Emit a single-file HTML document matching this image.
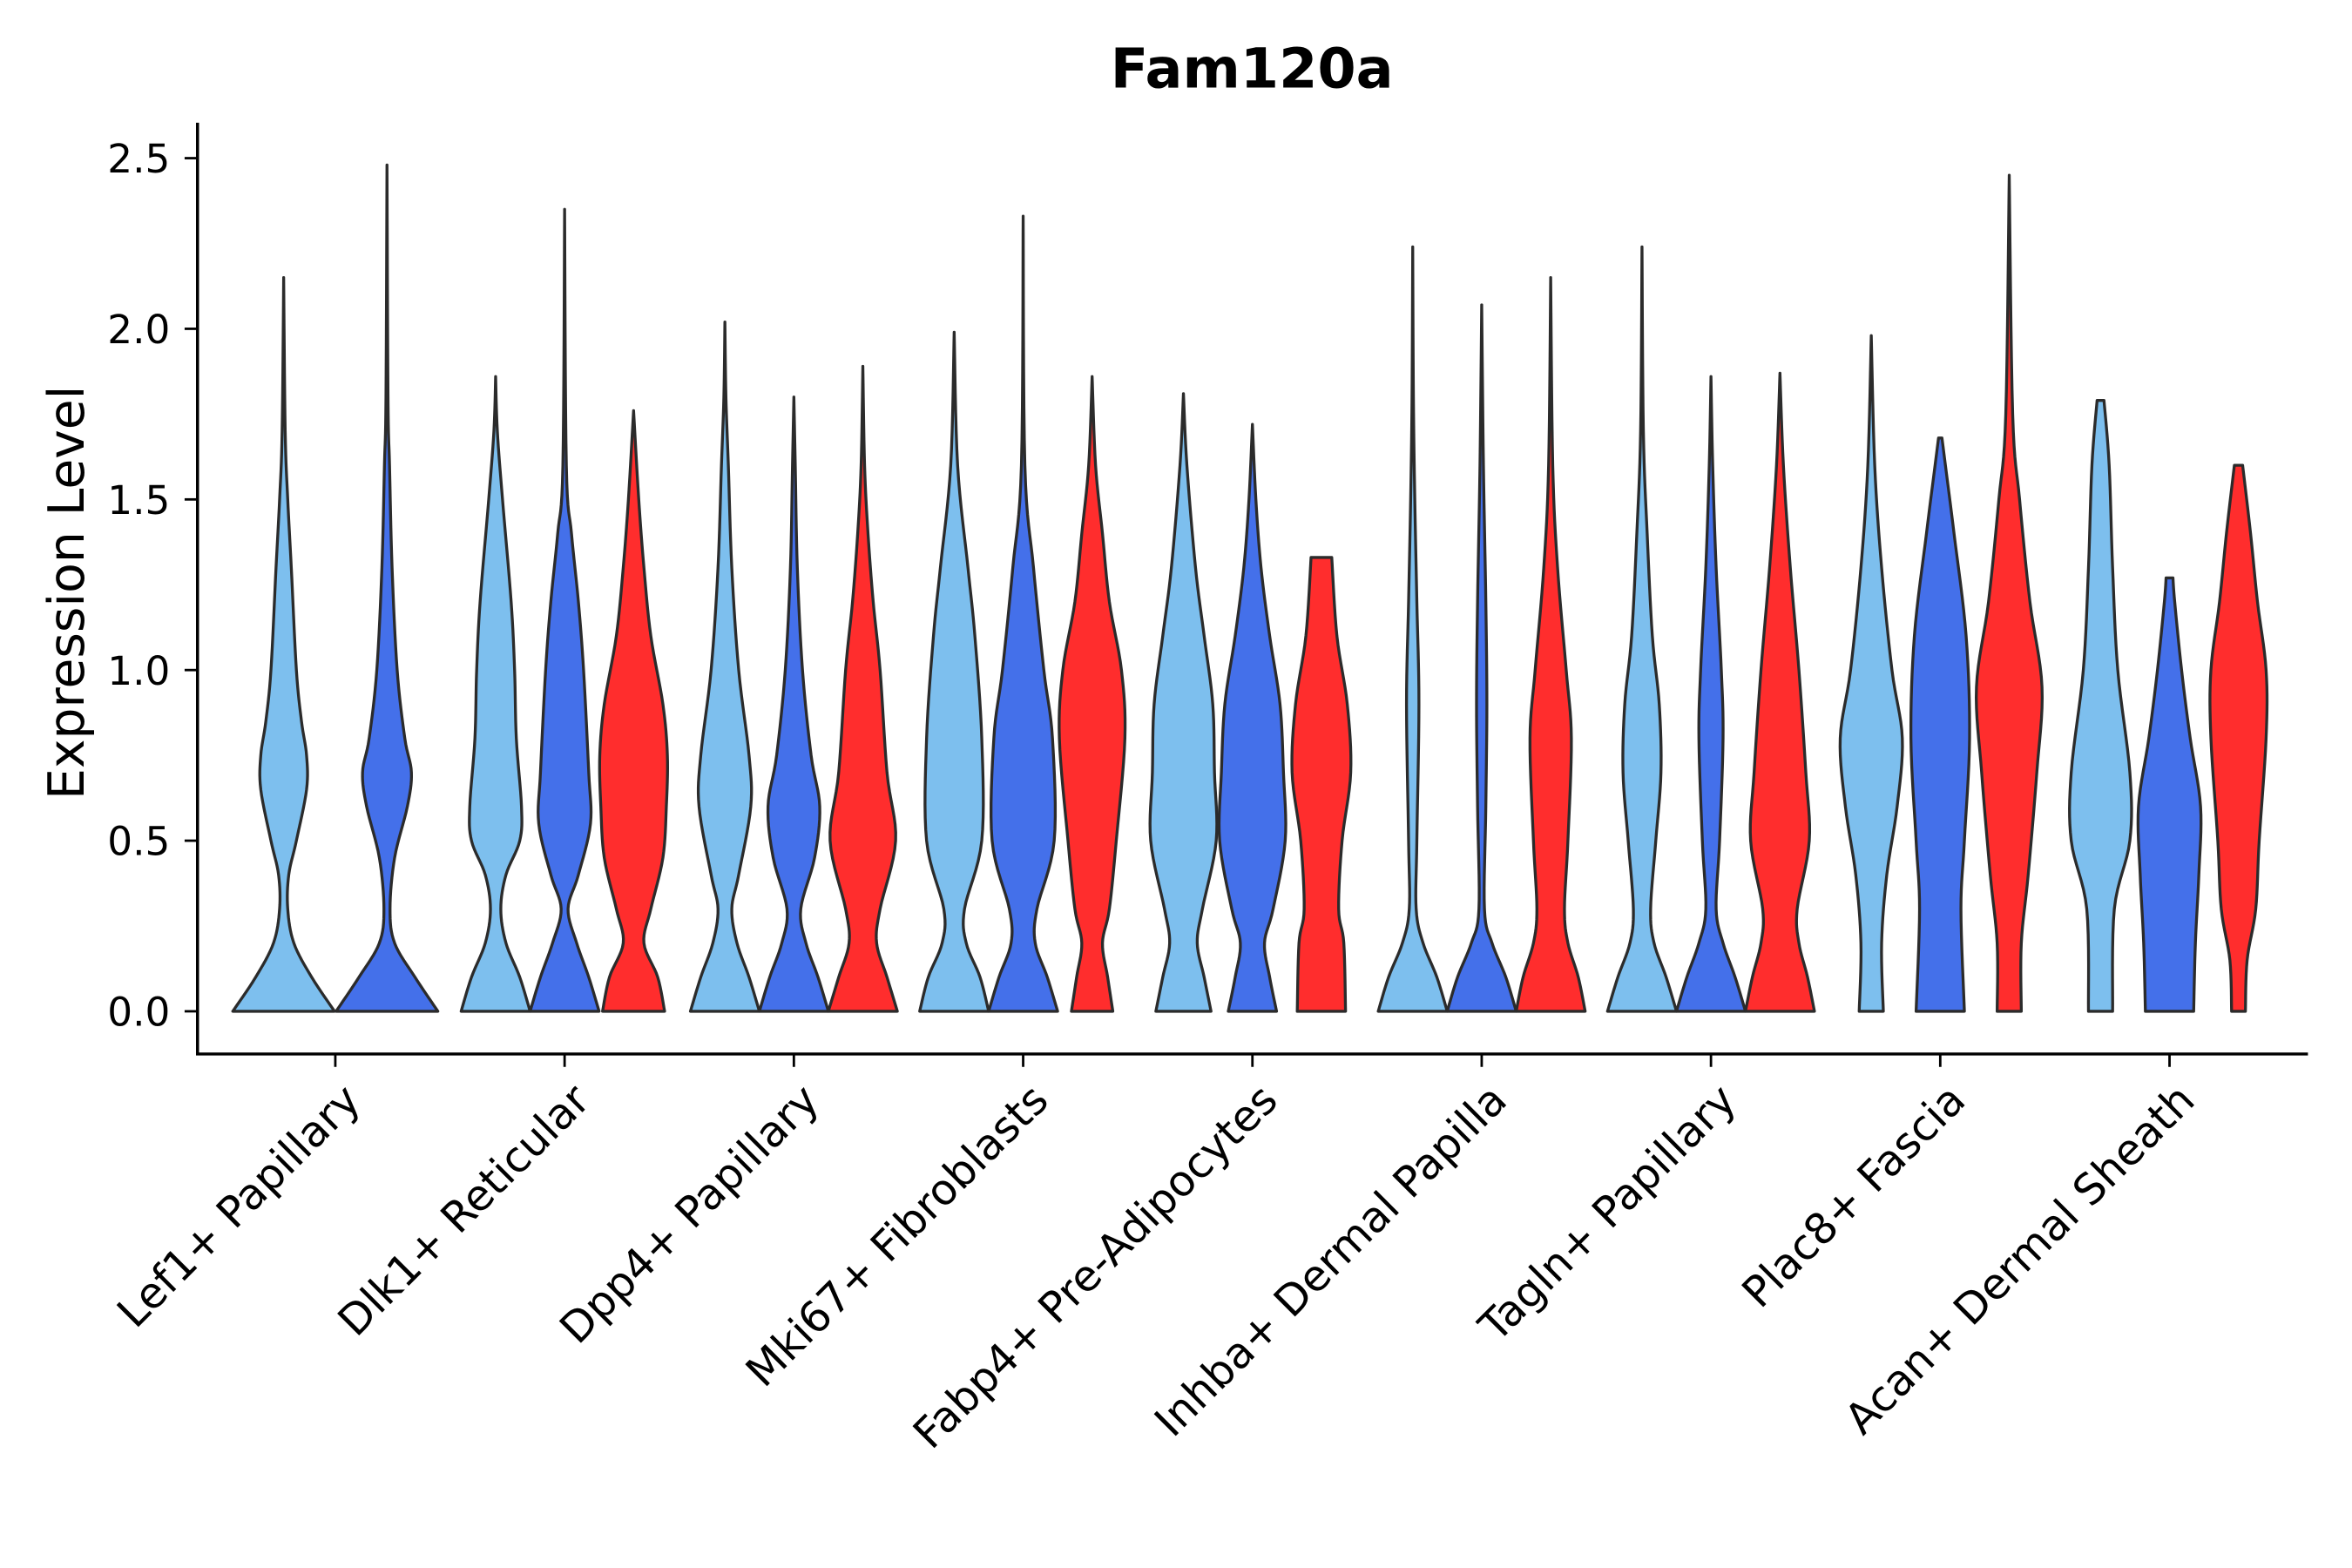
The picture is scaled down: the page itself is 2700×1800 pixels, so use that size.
<!DOCTYPE html>
<html><head><meta charset="utf-8"><style>html,body{margin:0;padding:0;background:#fff}svg{display:block}</style></head>
<body>
<svg id="chart" width="2700" height="1800" viewBox="0 0 1548 1032" xmlns="http://www.w3.org/2000/svg" font-family="'DejaVu Sans','Liberation Sans',sans-serif">
<rect width="1548" height="1032" fill="#fff"/>
<text x="824" y="57.7" text-anchor="middle" font-size="36.5" font-weight="bold">Fam120a</text>
<text transform="translate(55,390) rotate(-90)" text-anchor="middle" font-size="32.5">Expression Level</text>
<g id="axes"></g>
<g id="violins"></g>
</svg>
<script>
const categories = ["Lef1+ Papillary","Dlk1+ Reticular","Dpp4+ Papillary","Mki67+ Fibroblasts","Fabp4+ Pre-Adipocytes","Inhba+ Dermal Papilla","Tagln+ Papillary","Plac8+ Fascia","Acan+ Dermal Sheath"];
const yTicks = [0, 0.5, 1.0, 1.5, 2.0, 2.5];
const yTickLabels = ["0.0","0.5","1.0","1.5","2.0","2.5"];
const seriesNames = ["light","blue","red"];
const seriesColors = ["#7dbfee","#4470ea","#ff2d2d"];
const presence = [[1,1,0],[1,1,1],[1,1,1],[1,1,1],[1,1,1],[1,1,1],[1,1,1],[1,1,1],[1,1,1]];
const profiles = [
 [[[0,1],[0.1,0.55],[0.2,0.2],[0.3,0.08],[0.4,0.1],[0.5,0.25],[0.65,0.45],[0.75,0.45],[0.85,0.35],[1.0,0.25],[1.3,0.15],[1.5,0.08],[1.7,0.03],[2.15,0]],
  [[0,1],[0.1,0.55],[0.2,0.15],[0.3,0.06],[0.45,0.15],[0.6,0.4],[0.7,0.48],[0.8,0.35],[1.0,0.2],[1.3,0.1],[1.6,0.05],[1.8,0.02],[2.48,0]], null],
 [[[0,1],[0.1,0.7],[0.2,0.3],[0.3,0.15],[0.4,0.3],[0.5,0.7],[0.6,0.75],[0.8,0.6],[1.0,0.55],[1.2,0.45],[1.5,0.2],[1.7,0.05],[1.86,0]],
  [[0,1],[0.1,0.7],[0.2,0.35],[0.3,0.1],[0.4,0.4],[0.55,0.75],[0.7,0.7],[1.0,0.55],[1.2,0.4],[1.4,0.2],[1.6,0.05],[2.35,0]],
  [[0,0.9],[0.1,0.7],[0.2,0.3],[0.3,0.5],[0.45,0.85],[0.6,0.95],[0.75,0.98],[0.9,0.85],[1.1,0.5],[1.3,0.3],[1.5,0.15],[1.76,0]]],
 [[[0,1],[0.1,0.7],[0.2,0.35],[0.3,0.2],[0.4,0.4],[0.6,0.75],[0.75,0.7],[1.0,0.4],[1.3,0.2],[1.6,0.1],[1.8,0.03],[2.02,0]],
  [[0,1],[0.1,0.7],[0.2,0.35],[0.3,0.2],[0.45,0.6],[0.6,0.75],[0.75,0.5],[1.0,0.25],[1.3,0.1],[1.6,0.04],[1.8,0]],
  [[0,1],[0.1,0.7],[0.2,0.4],[0.3,0.5],[0.5,0.95],[0.7,0.7],[1.0,0.5],[1.2,0.3],[1.4,0.15],[1.6,0.05],[1.89,0]]],
 [[[0,1],[0.1,0.75],[0.2,0.35],[0.3,0.3],[0.5,0.8],[0.8,0.8],[1.1,0.6],[1.3,0.4],[1.6,0.1],[1.99,0]],
  [[0,1],[0.1,0.7],[0.2,0.35],[0.3,0.4],[0.5,0.9],[0.8,0.85],[1.0,0.6],[1.3,0.3],[1.6,0.05],[2.33,0]],
  [[0,0.6],[0.1,0.45],[0.2,0.3],[0.3,0.5],[0.5,0.7],[0.8,0.95],[1.0,0.85],[1.2,0.5],[1.4,0.3],[1.6,0.1],[1.86,0]]],
 [[[0,0.8],[0.1,0.6],[0.2,0.4],[0.3,0.55],[0.5,0.95],[0.7,0.9],[0.9,0.85],[1.1,0.6],[1.3,0.35],[1.6,0.1],[1.81,0]],
  [[0,0.7],[0.1,0.5],[0.2,0.35],[0.3,0.6],[0.5,0.95],[0.7,0.9],[0.9,0.8],[1.1,0.5],[1.3,0.25],[1.5,0.1],[1.72,0]],
  [[0,0.7],[0.2,0.65],[0.3,0.5],[0.5,0.6],[0.7,0.85],[0.9,0.75],[1.1,0.45],[1.33,0.3]]],
 [[[0,1],[0.1,0.7],[0.2,0.3],[0.3,0.1],[0.5,0.12],[0.9,0.18],[1.2,0.12],[1.5,0.06],[1.8,0.02],[2.24,0]],
  [[0,1],[0.1,0.7],[0.2,0.3],[0.3,0.08],[0.6,0.12],[0.9,0.15],[1.2,0.12],[1.6,0.05],[2.07,0]],
  [[0,1],[0.1,0.8],[0.2,0.5],[0.3,0.4],[0.5,0.5],[0.8,0.6],[1.0,0.45],[1.3,0.2],[1.6,0.06],[2.15,0]]],
 [[[0,1],[0.1,0.7],[0.2,0.35],[0.3,0.25],[0.5,0.4],[0.7,0.55],[0.9,0.5],[1.1,0.3],[1.4,0.15],[1.7,0.04],[2.24,0]],
  [[0,1],[0.1,0.7],[0.2,0.35],[0.3,0.15],[0.5,0.25],[0.8,0.35],[1.0,0.3],[1.3,0.15],[1.6,0.05],[1.86,0]],
  [[0,1],[0.1,0.8],[0.2,0.55],[0.3,0.5],[0.5,0.85],[0.7,0.75],[1.0,0.55],[1.3,0.3],[1.6,0.1],[1.87,0]]],
 [[[0,0.35],[0.2,0.3],[0.4,0.45],[0.6,0.75],[0.8,0.9],[1.0,0.6],[1.3,0.3],[1.6,0.1],[1.98,0]],
  [[0,0.7],[0.3,0.6],[0.5,0.7],[0.8,0.85],[1.1,0.75],[1.4,0.4],[1.6,0.15],[1.68,0.05]],
  [[0,0.35],[0.2,0.35],[0.4,0.55],[0.7,0.8],[0.95,0.95],[1.2,0.6],[1.5,0.3],[1.75,0.1],[2.45,0]]],
 [[[0,0.35],[0.3,0.4],[0.5,0.85],[0.7,0.85],[1.0,0.5],[1.3,0.35],[1.6,0.25],[1.79,0.1]],
  [[0,0.7],[0.2,0.75],[0.4,0.85],[0.6,0.9],[0.8,0.6],[1.0,0.35],[1.2,0.15],[1.27,0.1]],
  [[0,0.2],[0.15,0.25],[0.3,0.5],[0.5,0.6],[0.8,0.8],[1.0,0.8],[1.2,0.55],[1.4,0.35],[1.6,0.12]]]
];

const NS="http://www.w3.org/2000/svg";
const plotL=130, plotR=1519, plotT=80.8, plotB=693.7;
const y0px=665.6, unitPx=224.6;
function yScale(v){return y0px - v*unitPx;}
function xCenter(i){return 220.7 + i*150.9;}
function mk(tag,attrs,parent){const e=document.createElementNS(NS,tag);for(const k in attrs)e.setAttribute(k,attrs[k]);parent.appendChild(e);return e;}
const axes=document.getElementById('axes');
const vg=document.getElementById('violins');
const yAxis=mk('line',{x1:plotL,y1:plotT,x2:plotL,y2:plotB,stroke:'#000','stroke-width':2},axes);


const xAxis=mk('line',{x1:plotL-1,y1:plotB,x2:plotR,y2:plotB,stroke:'#000','stroke-width':2},axes);


yTicks.forEach((t,i)=>{
  const y=yScale(t);
  const tk=mk('line',{x1:plotL-8.5,y1:y,x2:plotL,y2:y,stroke:'#000','stroke-width':1.6},axes);
  
  
  const lb=mk('text',{x:112,y:y+9.5,'text-anchor':'end','font-size':26,fill:'#000'},axes);
  lb.textContent=yTickLabels[i];
  
  
});
categories.forEach((c,i)=>{
  const x=xCenter(i);
  const tk=mk('line',{x1:x,y1:plotB,x2:x,y2:plotB+8.5,stroke:'#000','stroke-width':1.6},axes);
  
  
  const lb=mk('text',{transform:`translate(${x+18},${plotB+32}) rotate(-45)`,'text-anchor':'end','font-size':28,fill:'#000'},axes);
  lb.textContent=c;
  
  
});
function smoothPts(pts){
  const out=[];
  for(let i=0;i<pts.length-1;i++){
    const p0=pts[Math.max(0,i-1)],p1=pts[i],p2=pts[i+1],p3=pts[Math.min(pts.length-1,i+2)];
    for(let s=0;s<8;s++){
      const t=s/8,t2=t*t,t3=t2*t;
      const f=(a,b,c,d)=>0.5*((2*b)+(-a+c)*t+(2*a-5*b+4*c-d)*t2+(-a+3*b-3*c+d)*t3);
      out.push([f(p0[0],p1[0],p2[0],p3[0]),Math.max(0,f(p0[1],p1[1],p2[1],p3[1]))]);
    }
  }
  out.push(pts[pts.length-1]);
  return out;
}
profiles.forEach((grp,i)=>{
  const n=presence[i].reduce((a,b)=>a+b,0);
  const slot=n===2?68:45.4;
  const hwMax=n===2?33.5:22.7;
  let k=0;
  grp.forEach((prof,s)=>{
    if(!prof||!presence[i][s])return;
    const cx=xCenter(i)+(k-(n-1)/2)*slot; k++;
    const pts=smoothPts(prof);
    const right=pts.map(p=>[cx+p[1]*hwMax,yScale(p[0])]);
    const left=pts.slice().reverse().map(p=>[cx-p[1]*hwMax,yScale(p[0])]);
    const d='M'+right.concat(left).map(p=>p[0].toFixed(2)+','+p[1].toFixed(2)).join(' L')+' Z';
    const path=mk('path',{d:d,fill:seriesColors[s],stroke:'#2b2b2b','stroke-width':1.9,'stroke-linejoin':'round'},vg);
    
    
  });
});
</script>
</body></html>
